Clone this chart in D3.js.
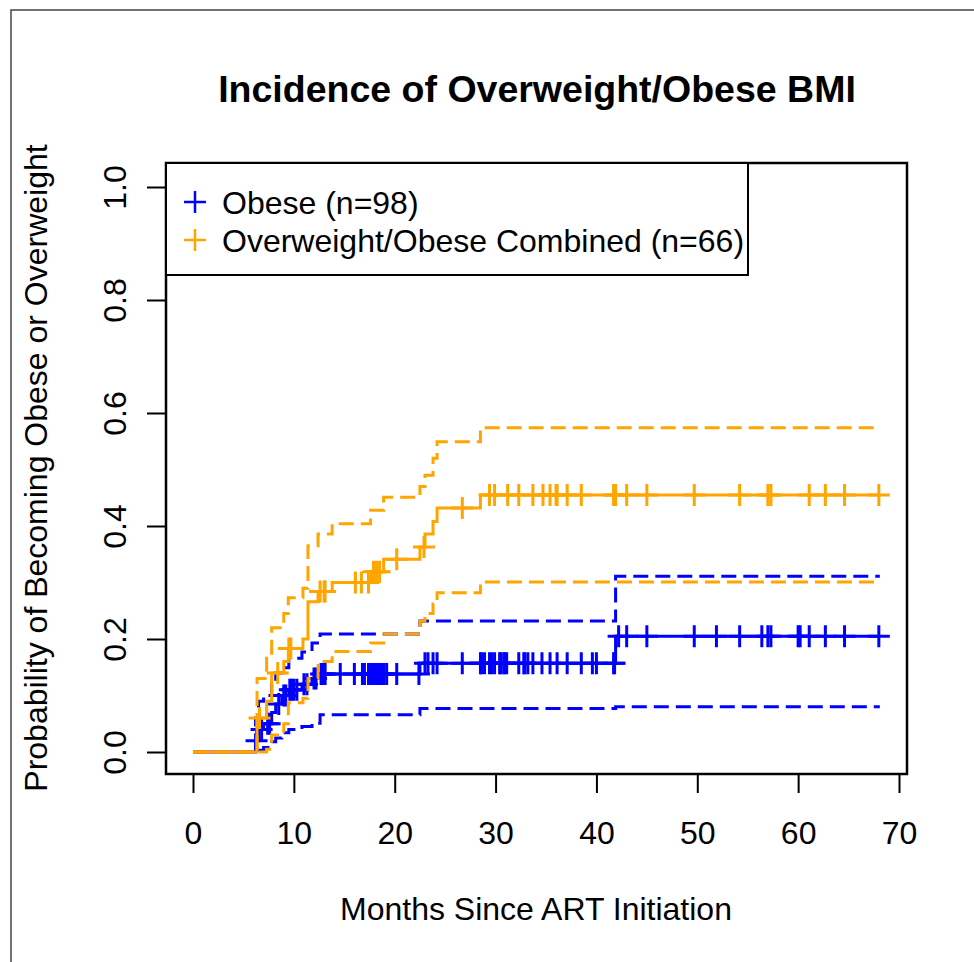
<!DOCTYPE html>
<html>
<head>
<meta charset="utf-8">
<script src="https://cdn.jsdelivr.net/npm/d3@7"></script>
<style>
  body { margin: 0; background: #fff; }
  text { font-family: "Liberation Sans", Arial, sans-serif; fill: #000; }
</style>
</head>
<body>
<div id="chart"></div>
<script>
// Kaplan-Meier style cumulative incidence
var obeseTime  = [0, 6.2, 6.5, 7.0, 7.8, 8.2, 8.8, 9.5, 10.8, 11.8, 12.6, 22.5, 41.9, 68.1];
var obeseEst   = [0, 0.02, 0.04, 0.05, 0.07, 0.085, 0.10, 0.11, 0.12, 0.13, 0.138, 0.157, 0.205, 0.205];
var obeseUpper = [0, 0.06, 0.09, 0.10, 0.12, 0.14, 0.149, 0.166, 0.177, 0.193, 0.209, 0.232, 0.311, 0.311];
var obeseLower = [0, 0, 0.003, 0.008, 0.018, 0.025, 0.034, 0.040, 0.045, 0.051, 0.066, 0.077, 0.080, 0.080];
var obeseCensor = [6.3, 6.8, 7.4, 7.6, 8.5, 9.0, 9.2, 9.6, 9.8, 10.0, 10.3, 11.0, 11.3, 12.0, 12.2, 12.7,
    12.9, 13.1, 14.6, 16.0, 16.8, 17.0, 17.4, 17.7, 17.9, 18.0, 18.2, 18.4, 18.5, 18.7, 18.9, 19.2, 20.2, 22.4,
    23.0, 23.3, 23.8, 24.2, 26.7, 28.5, 28.6, 28.9, 29.4, 29.6, 29.9, 30.4, 30.5, 30.8, 30.9, 31.1, 32.3, 32.8,
    32.9, 33.2, 33.7, 34.6, 35.4, 36.1, 37.1, 38.5, 39.6, 40.0, 41.7, 41.8, 42.2, 43.0, 45.0, 49.7, 51.9, 54.2,
    56.4, 57.0, 57.3, 60.0, 60.2, 61.1, 62.7, 64.6, 68.0];

var owTime  = [0, 6.35, 7.3, 7.8, 9.0, 9.45, 10.9, 11.4, 12.4, 13.8, 17.6, 18.9, 22.5, 23.0, 23.8, 24.2, 28.5, 68.1];
var owEst   = [0, 0.06, 0.09, 0.14, 0.16, 0.183, 0.20, 0.266, 0.284, 0.300, 0.319, 0.341, 0.363, 0.386, 0.408, 0.432, 0.455, 0.455];
var owUpper = [0, 0.13, 0.17, 0.22, 0.245, 0.273, 0.29, 0.365, 0.386, 0.404, 0.428, 0.451, 0.47, 0.49, 0.52, 0.549, 0.574, 0.574];
var owLower = [0, 0, 0.005, 0.03, 0.05, 0.087, 0.095, 0.13, 0.16, 0.178, 0.193, 0.209, 0.232, 0.245, 0.262, 0.282, 0.301, 0.301];
var owCensor = [6.6, 8.4, 9.5, 9.7, 12.6, 13.0, 13.1, 16.1, 16.7, 17.4, 17.9, 18.2, 18.5, 20.2, 22.9, 26.7,
    29.4, 29.9, 31.2, 32.3, 33.7, 34.7, 35.4, 36.0, 36.1, 37.1, 38.5, 41.7, 41.9, 43.0, 45.0, 49.7, 54.2,
    57.0, 57.3, 61.1, 62.7, 64.6, 68.0];

var xTicks = [0, 10, 20, 30, 40, 50, 60, 70];
var yTicks = [0, 0.2, 0.4, 0.6, 0.8, 1.0];
var legendLabels = ["Obese (n=98)", "Overweight/Obese Combined (n=66)"];

var svgWidth = 974;
var svgHeight = 962;
var fontSize = "32px";

// plot box
var box = { left: 166, right: 907, top: 163, bottom: 774 };

var svg = d3.select("#chart")
    .append("svg")
    .attr("width", svgWidth)
    .attr("height", svgHeight);

// outer frame
svg.append("rect")
    .attr("x", 11).attr("y", 10)
    .attr("width", 1000).attr("height", 1000)
    .attr("fill", "none")
    .attr("stroke", "#444")
    .attr("stroke-width", 1.5);

var x = d3.scaleLinear().domain([0, 70]).range([193, 899]);
var y = d3.scaleLinear().domain([0, 1]).range([752, 187]);

var xAxis = d3.axisBottom(x).tickValues(xTicks).tickSize(19).tickFormat(d3.format("d"));
var yAxis = d3.axisLeft(y).tickValues(yTicks).tickSize(19).tickFormat(d3.format(".1f"));

var gx = svg.append("g")
    .attr("transform", `translate(0, ${box.bottom})`)
    .call(xAxis);
var gy = svg.append("g")
    .attr("transform", `translate(${box.left}, 0)`)
    .call(yAxis);

[gx, gy].forEach(function (g) {
    g.select(".domain").remove();
    g.selectAll(".tick line").attr("stroke", "#000").attr("stroke-width", 2);
    g.selectAll(".tick text").style("font-size", fontSize).attr("fill", "#000");
});
gx.selectAll(".tick text").attr("dy", "0.71em").attr("y", 47);
gy.selectAll(".tick text")
    .attr("text-anchor", "middle")
    .attr("transform", "rotate(-90)")
    .attr("x", 0)
    .attr("y", -40)
    .attr("dy", "0");

// step lines
function stepData(times, vals) {
    return times.map((t, i) => [t, vals[i]]);
}
var line = d3.line()
    .x(d => x(d[0]))
    .y(d => y(d[1]))
    .curve(d3.curveStepAfter);

function valueAt(times, vals, t) {
    var i = d3.bisectRight(times, t) - 1;
    return vals[Math.max(0, i)];
}

var series = [
    { t: obeseTime, est: obeseEst, up: obeseUpper, lo: obeseLower, cens: obeseCensor, color: "#0000FF" },
    { t: owTime, est: owEst, up: owUpper, lo: owLower, cens: owCensor, color: "#FFA500" }
];

series.forEach(function (s) {
    [s.up, s.lo].forEach(function (v) {
        svg.append("path")
            .attr("d", line(stepData(s.t, v)))
            .attr("fill", "none")
            .attr("stroke", s.color)
            .attr("stroke-width", 3)
            .attr("stroke-dasharray", "15,7");
    });
    svg.append("path")
        .attr("d", line(stepData(s.t, s.est)))
        .attr("fill", "none")
        .attr("stroke", s.color)
        .attr("stroke-width", 3);

    // censor marks (+)
    var marks = svg.append("g");
    s.cens.forEach(function (c) {
        var cx = x(c), cy = y(valueAt(s.t, s.est, c));
        marks.append("path")
            .attr("d", `M${cx - 11},${cy}H${cx + 11}M${cx},${cy - 11}V${cy + 11}`)
            .attr("stroke", s.color)
            .attr("stroke-width", 3)
            .attr("fill", "none");
    });
});

// box
svg.append("rect")
    .attr("x", box.left).attr("y", box.top)
    .attr("width", box.right - box.left)
    .attr("height", box.bottom - box.top)
    .attr("fill", "none")
    .attr("stroke", "#000")
    .attr("stroke-width", 2.5);

// legend
var legend = svg.append("g");
legend.append("rect")
    .attr("x", box.left).attr("y", box.top)
    .attr("width", 748 - box.left).attr("height", 275 - box.top)
    .attr("fill", "#fff")
    .attr("stroke", "#000")
    .attr("stroke-width", 2);
legendLabels.forEach(function (lab, i) {
    var ly = 202 + i * 38;
    legend.append("path")
        .attr("d", `M${184},${ly}H${206}M${195},${ly - 11}V${ly + 11}`)
        .attr("stroke", series[i].color)
        .attr("stroke-width", 2.5);
    legend.append("text")
        .attr("x", 222).attr("y", ly)
        .attr("dy", "0.36em")
        .style("font-size", fontSize)
        .text(lab);
});

// titles
svg.append("text")
    .attr("x", 537).attr("y", 102)
    .attr("text-anchor", "middle")
    .style("font-size", "37.5px")
    .style("font-weight", "bold")
    .text("Incidence of Overweight/Obese BMI");

svg.append("text")
    .attr("x", 536).attr("y", 920)
    .attr("text-anchor", "middle")
    .style("font-size", fontSize)
    .text("Months Since ART Initiation");

svg.append("text")
    .attr("transform", `translate(47, 468) rotate(-90)`)
    .attr("text-anchor", "middle")
    .style("font-size", fontSize)
    .text("Probability of Becoming Obese or Overweight");
</script>
</body>
</html>
